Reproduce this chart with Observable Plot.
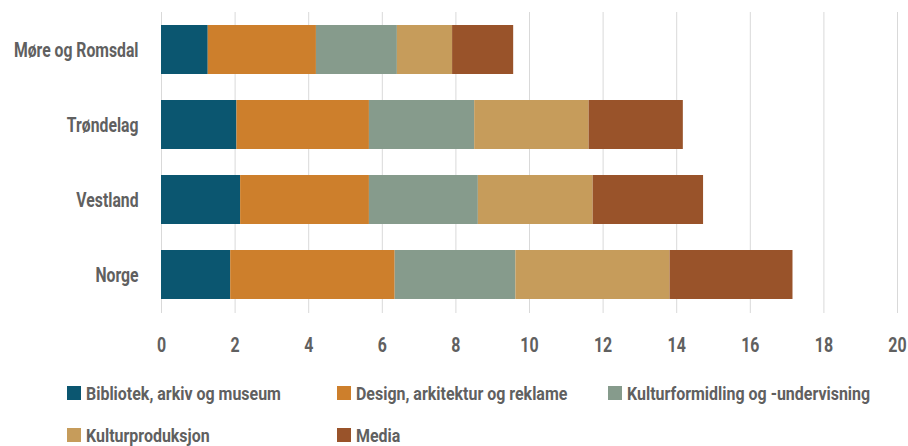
<!DOCTYPE html>
<html>
<head>
<meta charset="utf-8">
<script src="https://cdn.jsdelivr.net/npm/d3@7"></script>
<script src="https://cdn.jsdelivr.net/npm/@observablehq/plot@0.6"></script>
<style>
  html, body { margin: 0; padding: 0; background: #fff; overflow: hidden; }
  body { width: 908px; height: 446px; font-family: Roboto, sans-serif; }
  .legend { display: grid; grid-template-columns: 270px 271px auto; grid-auto-rows: 42px; padding-left: 67px; }
  .item { display: flex; align-items: center; font-size: 19px; font-weight: bold; color: #606060; white-space: nowrap; }
  .sw { width: 14px; height: 14px; margin-right: 5px; flex: none; }
  .lbl { display: inline-block; transform: scaleX(0.84); transform-origin: left center; }
</style>
</head>
<body>
<div id="chart"></div>
<div class="legend" id="legend"></div>
<script>
const regions = ["Møre og Romsdal", "Trøndelag", "Vestland", "Norge"];
const categories = [
  "Bibliotek, arkiv og museum",
  "Design, arkitektur og reklame",
  "Kulturformidling og -undervisning",
  "Kulturproduksjon",
  "Media"
];
const colors = ["#0b5670", "#cd7f2c", "#869b8c", "#c69c5b", "#99532a"];
const bibliotek  = [1.27, 2.05, 2.15, 1.88];
const design     = [2.94, 3.60, 3.50, 4.47];
const formidling = [2.20, 2.86, 2.96, 3.28];
const produksjon = [1.50, 3.11, 3.12, 4.19];
const media      = [1.66, 2.56, 3.00, 3.34];
const xTicks = [0, 2, 4, 6, 8, 10, 12, 14, 16, 18, 20];

const series = [bibliotek, design, formidling, produksjon, media];
const data = [];
categories.forEach((c, i) => regions.forEach((r, j) => data.push({region: r, category: c, value: series[i][j]})));

const chart = Plot.plot({
  width: 908,
  height: 372,
  marginTop: 12,
  marginBottom: 59,
  marginLeft: 161,
  marginRight: 11,
  style: {fontFamily: 'Roboto, sans-serif', color: "#606060", background: "#fff"},
  x: {domain: [0, 20], ticks: xTicks, label: null},
  y: {domain: regions, paddingInner: 0.34, paddingOuter: 0.17, label: null},
  color: {domain: categories, range: colors},
  marks: [
    Plot.gridX(xTicks, {stroke: "#d9d9d9", strokeOpacity: 1, strokeWidth: 1}),
    Plot.barX(data, Plot.stackX({y: "region", x: "value", fill: "category", order: categories})),
    Plot.axisX(xTicks, {tickSize: 0, tickPadding: 24, fontSize: 21, fontWeight: "bold", label: null}),
    Plot.axisY({tickSize: 0, tickPadding: 23, fontSize: 21, fontWeight: "bold", label: null})
  ]
});
document.getElementById("chart").appendChild(chart);

// horizontally condense the axis labels to mimic the narrow typeface
function condense(sel, k) {
  d3.select(chart).selectAll(sel).each(function() {
    const x = +this.getAttribute("x") || 0, y = +this.getAttribute("y") || 0;
    const t = this.getAttribute("transform") || "";
    this.setAttribute("transform", `${t} translate(${x},${y}) scale(${k},1) translate(${-x},${-y})`);
  });
}
condense('g[aria-label="x-axis tick label"] text', 0.76);
condense('g[aria-label="y-axis tick label"] text', 0.75);

const legend = document.getElementById("legend");
categories.forEach((c, i) => {
  const it = document.createElement("div");
  it.className = "item";
  const sw = document.createElement("span");
  sw.className = "sw";
  sw.style.background = colors[i];
  const lb = document.createElement("span");
  lb.className = "lbl";
  lb.textContent = c;
  it.appendChild(sw);
  it.appendChild(lb);
  legend.appendChild(it);
});
</script>
</body>
</html>
